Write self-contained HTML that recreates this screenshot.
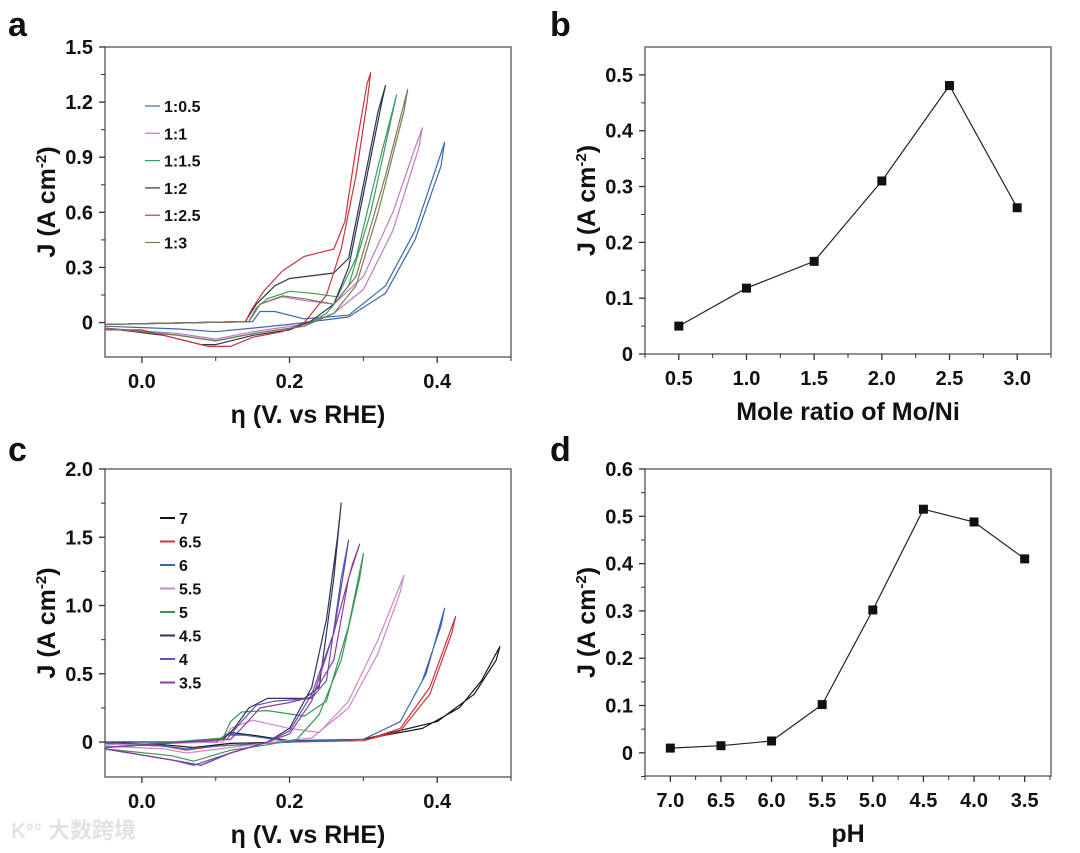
<!DOCTYPE html>
<html><head><meta charset="utf-8">
<style>
html,body{margin:0;padding:0;background:#fff;}
svg{display:block;font-family:"Liberation Sans",Arial,sans-serif;}
.tl{font-weight:bold;font-size:20px;fill:#111;}
.at{font-weight:bold;font-size:25px;fill:#111;}
.pl{font-weight:bold;font-size:34px;fill:#111;}
.lg{font-weight:bold;font-size:16px;fill:#111;}
</style></head>
<body>
<svg id="fig" width="1080" height="853" viewBox="0 0 1080 853" xmlns="http://www.w3.org/2000/svg">
<text x="48" y="838" style="font-family:'Liberation Sans','Noto Sans CJK SC',sans-serif;font-size:22px;fill:#e2e2e2;font-weight:bold">大数跨境</text>
<text x="12" y="838" style="font-size:20px;fill:#e2e2e2;font-weight:bold">Ꮶ°°</text>
</svg>
<script>
// ---------- Panel a data ----------
const aNames = ["1:0.5","1:1","1:1.5","1:2","1:2.5","1:3"];
const aColors = ["#3c6aa8","#c07cc4","#3d9a60","#2b3552","#c8363c","#7c7a55"];
const aVolts = [
 [-0.05,0.15,0.16,0.18,0.22,0.28,0.33,0.37,0.41, 0.405,0.37,0.33,0.28,0.2,0.15,0.1,0.05,-0.05],
 [-0.05,0.145,0.16,0.19,0.22,0.26,0.3,0.34,0.37,0.38, 0.375,0.34,0.3,0.26,0.22,0.15,0.1,0.05,-0.05],
 [-0.05,0.145,0.155,0.17,0.2,0.23,0.265,0.29,0.32,0.345, 0.34,0.31,0.28,0.25,0.22,0.15,0.1,0.05,-0.05],
 [-0.05,0.14,0.155,0.18,0.2,0.26,0.28,0.3,0.32,0.33, 0.325,0.3,0.28,0.26,0.23,0.2,0.15,0.1,0.08,0.03,-0.05],
 [-0.05,0.14,0.15,0.165,0.19,0.22,0.26,0.275,0.29,0.305,0.31, 0.305,0.29,0.27,0.25,0.22,0.19,0.15,0.12,0.09,0.05,0.0,-0.05],
 [-0.05,0.145,0.16,0.19,0.22,0.26,0.29,0.33,0.36, 0.355,0.32,0.29,0.26,0.22,0.15,0.1,0.05,-0.05]
];
const aCurr = [
 [-0.01,0.005,0.06,0.06,0.02,0.04,0.2,0.5,0.98, 0.85,0.45,0.16,0.03,-0.01,-0.03,-0.05,-0.035,-0.02],
 [-0.01,0.005,0.1,0.14,0.12,0.1,0.25,0.6,0.95,1.06, 0.95,0.5,0.18,0.05,-0.01,-0.05,-0.09,-0.06,-0.03],
 [-0.01,0.005,0.08,0.13,0.17,0.16,0.14,0.35,0.85,1.24, 1.15,0.6,0.2,0.05,-0.02,-0.06,-0.1,-0.07,-0.03],
 [-0.01,0.005,0.1,0.2,0.24,0.27,0.35,0.75,1.15,1.29, 1.2,0.7,0.3,0.1,0.01,-0.04,-0.07,-0.12,-0.12,-0.07,-0.03],
 [-0.01,0.005,0.08,0.17,0.28,0.36,0.4,0.55,0.95,1.3,1.36, 1.2,0.8,0.4,0.15,0.0,-0.05,-0.08,-0.13,-0.13,-0.09,-0.04,-0.04],
 [-0.01,0.005,0.1,0.145,0.13,0.1,0.25,0.8,1.27, 1.15,0.6,0.2,0.05,-0.02,-0.06,-0.1,-0.07,-0.03]
];
const aYTicks = [0,0.3,0.6,0.9,1.2,1.5];
const aYLabels = ["0","0.3","0.6","0.9","1.2","1.5"];
// ---------- Panel b data ----------
const bRatios = [0.5,1.0,1.5,2.0,2.5,3.0];
const bJ = [0.05,0.118,0.166,0.31,0.481,0.262];
const bYTicks = [0,0.1,0.2,0.3,0.4,0.5];
const bYLabels = ["0","0.1","0.2","0.3","0.4","0.5"];
const bXLabels = ["0.5","1.0","1.5","2.0","2.5","3.0"];
// ---------- Panel c data ----------
const cNames = ["7","6.5","6","5.5","5","4.5","4","3.5"];
const cColors = ["#151515","#d0343a","#3b66ad","#c98ac9","#3a9856","#2b3556","#5a55b0","#8c3c9c"];
const cVolts = [
 [-0.05,0.1,0.12,0.15,0.2,0.3,0.38,0.43,0.46,0.485, 0.48,0.45,0.4,0.3,0.2,0.12,0.07,0.03,-0.05],
 [-0.05,0.1,0.115,0.14,0.2,0.3,0.35,0.39,0.425, 0.42,0.39,0.35,0.3,0.2,0.1,0.06,0.03,-0.05],
 [-0.05,0.1,0.115,0.14,0.2,0.3,0.35,0.385,0.41, 0.405,0.38,0.35,0.3,0.2,0.1,0.06,0.03,-0.05],
 [-0.05,0.11,0.12,0.15,0.2,0.24,0.28,0.32,0.355, 0.35,0.32,0.28,0.23,0.18,0.12,0.06,0.03,-0.05],
 [-0.05,0.11,0.12,0.135,0.17,0.22,0.25,0.28,0.3, 0.295,0.27,0.24,0.21,0.17,0.12,0.07,0.04,-0.05],
 [-0.05,0.11,0.125,0.145,0.17,0.22,0.24,0.26,0.27, 0.265,0.25,0.23,0.2,0.17,0.12,0.08,0.05,-0.05],
 [-0.05,0.115,0.13,0.155,0.18,0.23,0.25,0.27,0.28, 0.275,0.26,0.23,0.2,0.17,0.12,0.08,0.05,-0.05],
 [-0.05,0.12,0.135,0.16,0.2,0.23,0.26,0.28,0.295, 0.285,0.26,0.23,0.2,0.17,0.12,0.07,0.04,-0.05]
];
const cCurr = [
 [0,0,0.07,0.05,0.01,0.02,0.1,0.25,0.45,0.70, 0.6,0.35,0.15,0.02,0.0,-0.01,-0.04,-0.02,0],
 [0,0,0.05,0.05,0.005,0.01,0.1,0.4,0.92, 0.8,0.35,0.08,0.01,0,-0.03,-0.06,-0.03,-0.01],
 [0,0,0.06,0.05,0.005,0.02,0.15,0.5,0.98, 0.85,0.45,0.15,0.02,0,-0.03,-0.05,-0.03,-0.01],
 [-0.02,0,0.1,0.16,0.1,0.07,0.3,0.75,1.22, 1.1,0.65,0.25,0.03,0,-0.04,-0.08,-0.05,-0.03],
 [-0.04,0.03,0.15,0.22,0.23,0.19,0.3,0.85,1.38, 1.2,0.6,0.2,0.02,-0.02,-0.06,-0.14,-0.1,-0.05],
 [-0.04,0.02,0.1,0.25,0.32,0.32,0.4,1.2,1.75, 1.5,0.9,0.4,0.1,0,-0.08,-0.17,-0.14,-0.05],
 [-0.04,0.02,0.12,0.27,0.3,0.32,0.45,1.2,1.48, 1.3,0.8,0.35,0.08,0,-0.08,-0.17,-0.14,-0.05],
 [-0.04,0.02,0.1,0.25,0.29,0.33,0.6,1.2,1.45, 1.3,0.8,0.3,0.06,0,-0.08,-0.17,-0.13,-0.05]
];
const cYTicks = [0,0.5,1.0,1.5,2.0];
const cYLabels = ["0","0.5","1.0","1.5","2.0"];
// ---------- Panel d data ----------
const dPH = [7.0,6.5,6.0,5.5,5.0,4.5,4.0,3.5];
const dJ = [0.01,0.015,0.025,0.102,0.302,0.515,0.488,0.41];
const dYTicks = [0,0.1,0.2,0.3,0.4,0.5,0.6];
const dYLabels = ["0","0.1","0.2","0.3","0.4","0.5","0.6"];
const dXLabels = ["7.0","6.5","6.0","5.5","5.0","4.5","4.0","3.5"];

const NS="http://www.w3.org/2000/svg";
const svg=document.getElementById('fig');
function mk(tag,attrs,parent,text){const e=document.createElementNS(NS,tag);for(const k in attrs)e.setAttribute(k,attrs[k]);if(text!==undefined)e.textContent=text;(parent||svg).appendChild(e);return e;}
function lin(d0,d1,p0,p1){return v=>p0+(v-d0)*(p1-p0)/(d1-d0);}

function axes(g,L,R,T,B,sx,sy,yT,yL,xT,xL,yMin,xMin,letter,lx,ly,xt){
  const fr=mk('rect',{x:L,y:T,width:R-L,height:B-T,fill:'none',stroke:'#555','stroke-width':1.3},g);
  
  
  yT.forEach((v,i)=>{const y=sy(v);
    const t=mk('line',{x1:L-6,x2:L,y1:y,y2:y,stroke:'#333','stroke-width':1.3},g);
    
    
    const tx=mk('text',{x:L-12,y:y+7,'text-anchor':'end',class:'tl'},g,yL[i]);
    
    
    if(i<yT.length-1){const m=sy((v+yT[i+1])/2);mk('line',{x1:L-4,x2:L,y1:m,y2:m,stroke:'#333','stroke-width':1},g);}
  });
  if(yMin!==null){const m=sy(yMin);mk('line',{x1:L-4,x2:L,y1:m,y2:m,stroke:'#333','stroke-width':1},g);}
  xT.forEach((v,i)=>{const x=sx(v);
    const t=mk('line',{x1:x,x2:x,y1:B,y2:B+6,stroke:'#333','stroke-width':1.3},g);
    
    
    const tx=mk('text',{x:x,y:B+31,'text-anchor':'middle',class:'tl'},g,xL[i]);
    
    
    if(i<xT.length-1){const m=sx((v+xT[i+1])/2);mk('line',{x1:m,x2:m,y1:B,y2:B+4,stroke:'#333','stroke-width':1},g);}
  });
  if(xMin!==null){xMin.forEach(v=>{const m=sx(v);mk('line',{x1:m,x2:m,y1:B,y2:B+4,stroke:'#333','stroke-width':1},g);});}
  const pl=mk('text',{x:lx,y:ly,class:'pl'},g,letter);
  
  
  const xa=mk('text',{x:(L+R)/2,y:B+66,'text-anchor':'middle',class:'at'},g,xt);
  
  
  const ya=mk('text',{x:0,y:0,'text-anchor':'middle',class:'at',transform:`translate(${L-50},${(T+B)/2}) rotate(-90)`},g);
  
  
  ya.innerHTML='J (A cm<tspan dy="-9" font-size="15">-2</tspan><tspan dy="9">)</tspan>';
}

function cvPanel(id,L,R,T,B,xd,yd,volts,curr,names,colors,yT,yL,legX,legY,legDY,letter,lx,ly){
  const g=mk('g',{});
  
  
  const sx=lin(xd[0],xd[1],L,R), sy=lin(yd[0],yd[1],B,T);
  axes(g,L,R,T,B,sx,sy,yT,yL,[0,0.2,0.4],["0.0","0.2","0.4"],null,[0.5],letter,lx,ly,'η (V. vs RHE)');
  volts.forEach((vs,i)=>{
    const d=vs.map((v,j)=>(j?'L':'M')+sx(v).toFixed(1)+','+sy(curr[i][j]).toFixed(1)).join(' ');
    const p=mk('path',{d:d,fill:'none',stroke:colors[i],'stroke-width':1.2,'stroke-linejoin':'round'},g);
    
    
    const y=legY+i*legDY;
    const ll=mk('line',{x1:legX,x2:legX+15,y1:y,y2:y,stroke:colors[i],'stroke-width':id==='c'?2:1.2},g);
    
    
    const lt=mk('text',{x:legX+19,y:y+6,class:'lg'},g,names[i]);
    
    
  });
}

function ptPanel(id,L,R,T,B,xd,yd,xs,ys,yT,yL,xL,yMinTick,letter,lx,ly,xt){
  const g=mk('g',{});
  
  
  const sx=lin(xd[0],xd[1],L,R), sy=lin(yd[0],yd[1],B,T);
  const ext=[xd[0]<xd[1]?xs[xs.length-1]+0.25:xs[xs.length-1]-0.25];
  const xmin=[xd[0]<xd[1]?xs[0]-0.25:xs[0]+0.25].concat(ext);
  axes(g,L,R,T,B,sx,sy,yT,yL,xs,xL,yMinTick,xmin,letter,lx,ly,xt);
  const d=xs.map((v,j)=>(j?'L':'M')+sx(v).toFixed(1)+','+sy(ys[j]).toFixed(1)).join(' ');
  const p=mk('path',{d:d,fill:'none',stroke:'#222','stroke-width':1.2},g);
  
  
  xs.forEach((v,j)=>{
    const r=mk('rect',{x:sx(v)-4.5,y:sy(ys[j])-4.5,width:9,height:9,fill:'#111'},g);
    
    
  });
}

cvPanel('a',105,511,47,357,[-0.05,0.5],[-0.1875,1.5],aVolts,aCurr,aNames,aColors,aYTicks,aYLabels,145,106,27.3,'a',8,36);
cvPanel('c',105,511,469,777,[-0.05,0.5],[-0.256,2.0],cVolts,cCurr,cNames,cColors,cYTicks,cYLabels,160,518,23.5,'c',8,461);
ptPanel('b',645,1051,47,354,[0.25,3.25],[0,0.55],bRatios,bJ,bYTicks,bYLabels,bXLabels,null,'b',550,36,'Mole ratio of Mo/Ni');
ptPanel('d',645,1051,469,776,[7.25,3.24],[-0.049,0.6],dPH,dJ,dYTicks,dYLabels,dXLabels,-0.05,'d',550,461,'pH');
</script>
</body></html>
